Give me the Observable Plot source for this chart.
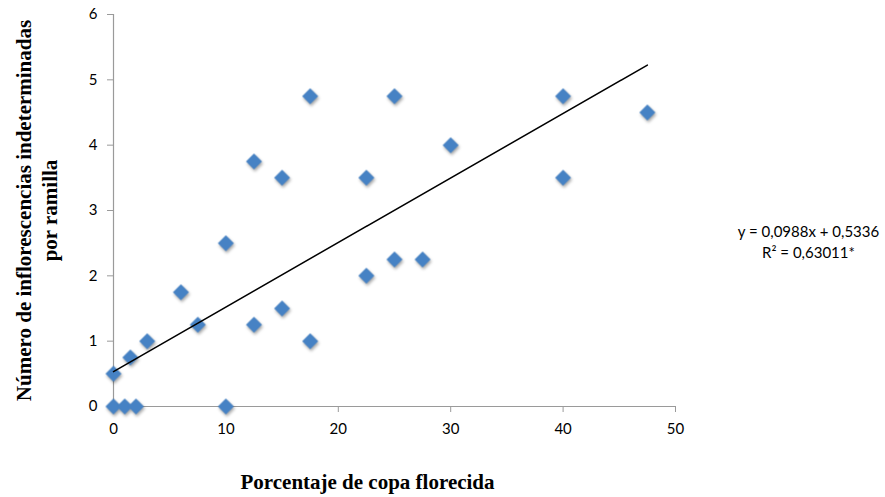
<!DOCTYPE html>
<html>
<head>
<meta charset="utf-8">
<script src="https://cdn.jsdelivr.net/npm/d3@7"></script>
<script src="https://cdn.jsdelivr.net/npm/@observablehq/plot@0.6"></script>
<style>
  html, body { margin: 0; padding: 0; background: #fff; }
  #chart svg { display: block; }
  .dots { filter: drop-shadow(1px 2px 1.5px rgba(0,0,0,0.35)); }
</style>
</head>
<body>
<div id="chart"></div>
<script>
// Data
const copaFlorecida = [0, 1, 2, 10, 0, 1.5, 3, 6, 7.5, 10, 12.5, 12.5, 15, 15, 17.5, 17.5, 22.5, 22.5, 25, 25, 27.5, 30, 40, 40, 47.5];
const inflorescencias = [0, 0, 0, 0, 0.5, 0.75, 1, 1.75, 1.25, 2.5, 1.25, 3.75, 1.5, 3.5, 1, 4.75, 2, 3.5, 2.25, 4.75, 2.25, 4, 4.75, 3.5, 4.5];
const xTicks = [0, 10, 20, 30, 40, 50];
const yTicks = [0, 1, 2, 3, 4, 5, 6];
const slope = 0.0988;
const intercept = 0.5336;
const equationText = "y = 0,0988x + 0,5336\nR² = 0,63011*";
const xLabel = "Porcentaje de copa florecida";
const yLabel = "Número de inflorescencias indeterminadas\npor ramilla";

const points = copaFlorecida.map((x, i) => ({x, y: inflorescencias[i]}));
const xExt = d3.extent(copaFlorecida);
const trend = xExt.map(x => ({x, y: slope * x + intercept}));

const tickFont = "Lato, 'Open Sans', sans-serif";
const serif = "'Liberation Serif', 'DejaVu Serif', serif";

const chart = Plot.plot({
  width: 885,
  height: 497,
  marginLeft: 113,
  marginRight: 210,
  marginTop: 14,
  marginBottom: 91,
  style: {fontFamily: tickFont, background: "#fff"},
  x: {domain: [0, 50]},
  y: {domain: [0, 6]},
  marks: [
    Plot.ruleY([0], {stroke: "#9a9a9a", strokeWidth: 1.2}),
    Plot.ruleX([0], {stroke: "#9a9a9a", strokeWidth: 1.2}),
    Plot.axisX({ticks: xTicks, tickFormat: d3.format("d"), tickSize: 6, tickPadding: 11, stroke: "#9a9a9a", fill: "#000", fontSize: 15, label: null}),
    Plot.axisY({ticks: yTicks, tickFormat: d3.format("d"), tickSize: 6, tickPadding: 10, stroke: "#9a9a9a", fill: "#000", fontSize: 15, label: null}),
    Plot.dot(points, {x: "x", y: "y", symbol: "diamond2", r: 7.2, fill: "#4682c4", stroke: "none", className: "dots"}),
    Plot.line(trend, {x: "x", y: "y", stroke: "#000", strokeWidth: 1.5}),
    Plot.text([equationText], {text: d => d, frameAnchor: "right", dx: 133, dy: 30, textAnchor: "middle", lineHeight: 1.4, fontSize: 15, fill: "#000"}),
    Plot.text([xLabel], {text: d => d, frameAnchor: "bottom", textAnchor: "middle", dx: -27, dy: 82, fontSize: 21, fontWeight: "bold", fontFamily: serif, fill: "#000"}),
    Plot.text([yLabel], {text: d => d, frameAnchor: "left", textAnchor: "middle", dx: -78, rotate: -90, lineHeight: 1.25, fontSize: 21, fontWeight: "bold", fontFamily: serif, fill: "#000"})
  ]
});
document.getElementById("chart").append(chart);
</script>
</body>
</html>
